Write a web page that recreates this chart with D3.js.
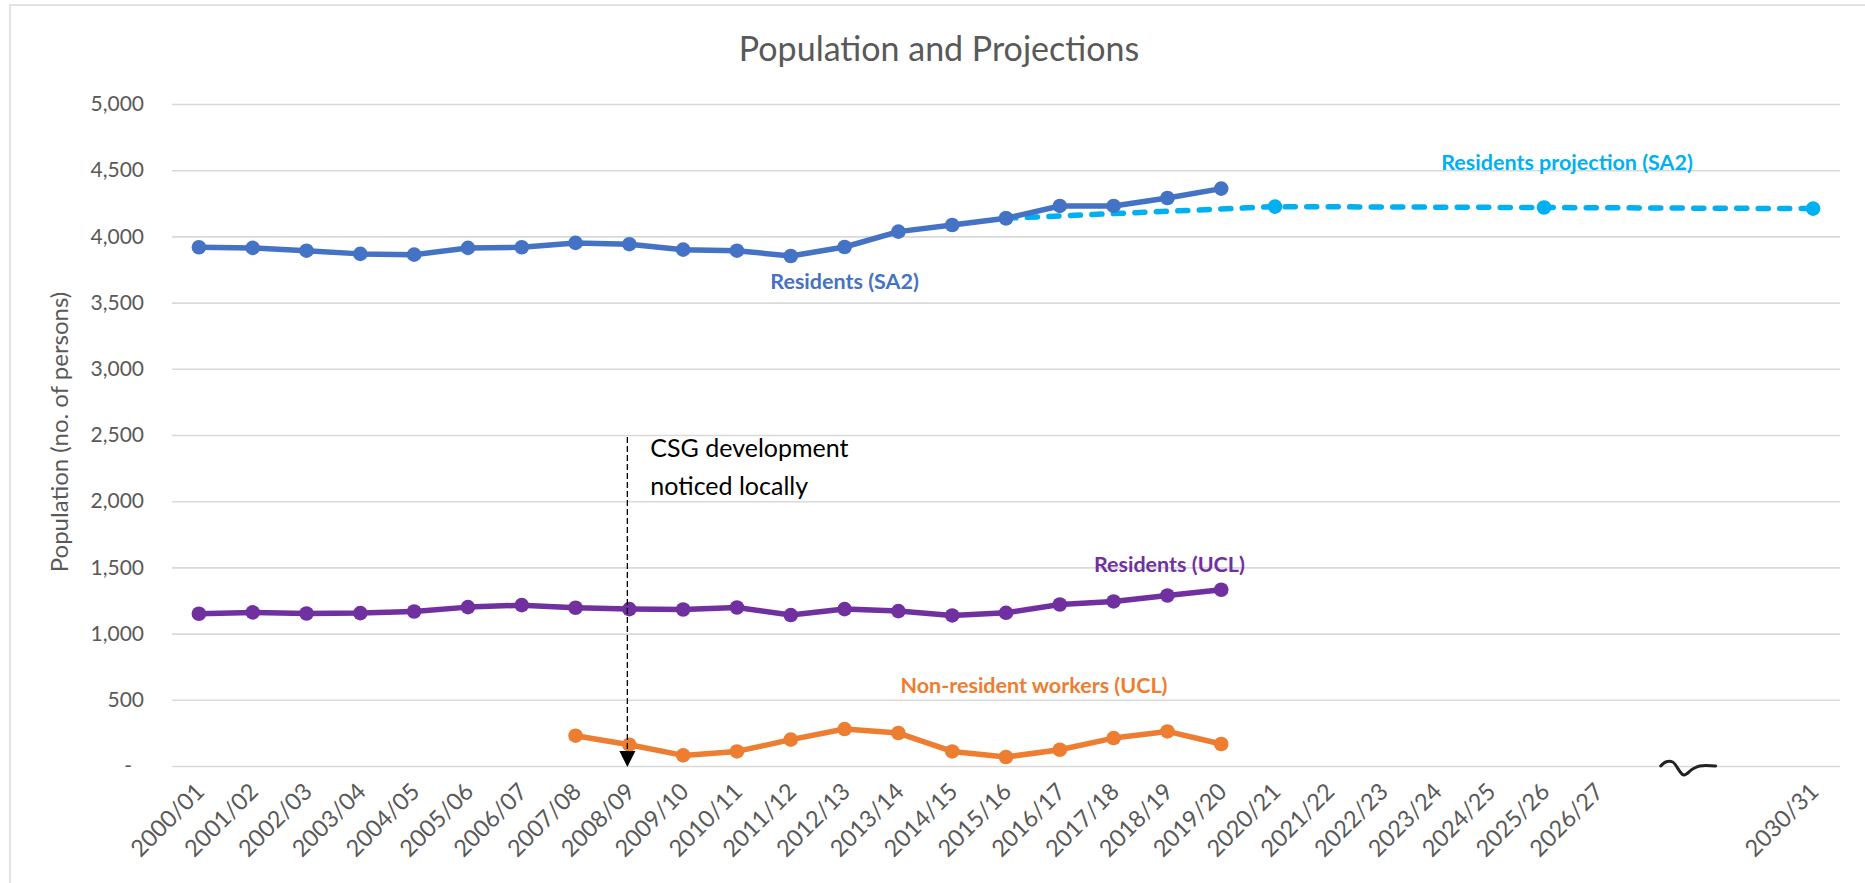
<!DOCTYPE html>
<html>
<head>
<meta charset="utf-8">
<script src="https://cdn.jsdelivr.net/npm/d3@7"></script>
<style>
  body { margin: 0; background: #fff; }
  text { font-family: Lato, "Open Sans", sans-serif; }
</style>
</head>
<body>
<svg id="chart"></svg>
<script>
// categories (the three blanks are the hidden years behind the axis break)
const years = ['2000/01', '2001/02', '2002/03', '2003/04', '2004/05', '2005/06', '2006/07',
  '2007/08', '2008/09', '2009/10', '2010/11', '2011/12', '2012/13', '2013/14', '2014/15',
  '2015/16', '2016/17', '2017/18', '2018/19', '2019/20', '2020/21', '2021/22', '2022/23',
  '2023/24', '2024/25', '2025/26', '2026/27', '', '', '', '2030/31']

const residentsSA2 = [3918, 3913, 3892, 3868, 3862, 3913, 3918, 3951, 3941, 3900,
  3892, 3852, 3920, 4036, 4086, 4137, 4230, 4230, 4290, 4361]

const projectionSA2 = [null, null, null, null, null, null, null, null, null, null,
  null, null, null, null, null, 4137, null, null, null, null,
  4225, null, null, null, null, 4218, null, null, null, null, 4210]

const residentsUCL = [1150, 1160, 1152, 1155, 1167, 1200, 1215, 1195, 1185, 1182,
  1197, 1140, 1185, 1170, 1137, 1157, 1220, 1243, 1288, 1331]

const nonResidentWorkers = [null, null, null, null, null, null, null, 229, 161, 80,
  110, 199, 279, 249, 110, 68, 123, 211, 261, 166]

const yTicks = [0, 500, 1000, 1500, 2000, 2500, 3000, 3500, 4000, 4500, 5000]

const width = 1865
const height = 883
const margin = {top: 104, right: 25, bottom: 117, left: 172}
const grey = '#595959'
const gridColor = '#d9d9d9'

const svg = d3.select('#chart').attr('width', width).attr('height', height)

// chart area border (runs off the right/bottom of the picture)
svg.append('rect')
  .attr('x', 10).attr('y', 5)
  .attr('width', width + 20).attr('height', height + 20)
  .attr('fill', '#fff')
  .attr('stroke', gridColor).attr('stroke-width', 1.5)

const x = d3.scaleBand()
  .domain(d3.range(years.length))
  .range([margin.left, width - margin.right])
const cx = i => x(i) + x.bandwidth() / 2

const y = d3.scaleLinear()
  .domain([0, 5000])
  .range([height - margin.bottom, margin.top])

// title
svg.append('text')
  .attr('x', 939).attr('y', 61)
  .attr('text-anchor', 'middle')
  .attr('fill', grey)
  .style('font-size', '34px')
  .text('Population and Projections')

// gridlines
svg.append('g')
  .attr('transform', `translate(${margin.left},0)`)
  .call(d3.axisLeft(y).tickValues(yTicks).tickSize(-(width - margin.left - margin.right)).tickFormat(''))
  .call(g => g.select('.domain').remove())
  .call(g => g.selectAll('line').attr('stroke', gridColor).attr('stroke-width', 1.6))

// y axis labels
svg.append('g')
  .attr('transform', `translate(${margin.left},0)`)
  .call(d3.axisLeft(y).tickValues(yTicks).tickSize(0).tickPadding(28)
    .tickFormat(d => d === 0 ? '-' : d3.format(',')(d)))
  .call(g => g.select('.domain').remove())
  .call(g => g.selectAll('text')
    .attr('fill', grey)
    .style('font-size', '21px')
    .attr('dx', d => d === 0 ? -12 : 0))

svg.append('text')
  .attr('transform', `translate(60,${(y(0) + y(5000)) / 2 - 3}) rotate(-90)`)
  .attr('text-anchor', 'middle')
  .attr('dy', '0.35em')
  .attr('fill', grey)
  .style('font-size', '24px')
  .text('Population (no. of persons)')

// x axis labels
svg.append('g')
  .attr('transform', `translate(0,${y(0)})`)
  .call(d3.axisBottom(x).tickSize(0).tickFormat(i => years[i]))
  .call(g => g.select('.domain').remove())
  .call(g => g.selectAll('text')
    .attr('y', 0).attr('dy', 0)
    .attr('text-anchor', 'end')
    .attr('transform', 'translate(7,27) rotate(-45)')
    .attr('fill', grey)
    .style('font-size', '23.5px'))

// axis break squiggle between 2026/27 and 2030/31
const breakShape = [[-27, 0], [-22, -4], [-15, -4], [-4, 9], [5, 3], [12, 0], [28, 0]]
const bx = cx(27) + 36
svg.append('path')
  .attr('d', d3.line().curve(d3.curveCatmullRom)(breakShape.map(p => [bx + p[0], y(0) + p[1]])))
  .attr('fill', 'none')
  .attr('stroke', '#222')
  .attr('stroke-width', 3)
  .attr('stroke-linecap', 'round')

function drawSeries(values, color, dashed) {
  const pts = values.map((v, i) => ({i, v})).filter(d => d.v != null)
  const g = svg.append('g')
  g.append('path')
    .datum(pts)
    .attr('d', d3.line().x(d => cx(d.i)).y(d => y(d.v)))
    .attr('fill', 'none')
    .attr('stroke', color)
    .attr('stroke-width', 5.5)
    .attr('stroke-linecap', 'round')
    .attr('stroke-linejoin', 'round')
    .attr('stroke-dasharray', dashed ? '10,11.5' : null)
  g.selectAll('circle')
    .data(pts)
    .join('circle')
    .attr('cx', d => cx(d.i))
    .attr('cy', d => y(d.v))
    .attr('r', 7.3)
    .attr('fill', color)
}

drawSeries(projectionSA2, '#00b0f0', true)
drawSeries(residentsSA2, '#4472c4', false)
drawSeries(residentsUCL, '#7030a0', false)
drawSeries(nonResidentWorkers, '#ed7d31', false)

// CSG annotation arrow
const ax = cx(8) - 2
svg.append('line')
  .attr('x1', ax).attr('x2', ax)
  .attr('y1', y(2500) + 2).attr('y2', y(0) - 12)
  .attr('stroke', '#000')
  .attr('stroke-width', 1.3)
  .attr('stroke-dasharray', '6,3')
svg.append('path')
  .attr('d', `M${ax - 8},${y(0) - 15}L${ax + 8},${y(0) - 15}L${ax},${y(0) + 1}Z`)
  .attr('fill', '#000')

const note = svg.append('text')
  .attr('fill', '#000')
  .style('font-size', '25px')
note.append('tspan').attr('x', ax + 23).attr('y', y(2500) + 22).text('CSG development')
note.append('tspan').attr('x', ax + 23).attr('y', y(2500) + 60).text('noticed locally')

// series labels
const seriesLabels = [
  {text: 'Residents (SA2)', i: 12, dx: 0, v: 3600, color: '#4472c4'},
  {text: 'Residents projection (SA2)', i: 25, dx: 23, v: 4500, color: '#00b0f0'},
  {text: 'Residents (UCL)', i: 18, dx: 2, v: 1465, color: '#7030a0'},
  {text: 'Non-resident workers (UCL)', i: 15, dx: 28, v: 555, color: '#ed7d31'}
]
svg.append('g')
  .selectAll('text')
  .data(seriesLabels)
  .join('text')
  .attr('x', d => cx(d.i) + d.dx)
  .attr('y', d => y(d.v))
  .attr('text-anchor', 'middle')
  .attr('fill', d => d.color)
  .style('font-size', '21.5px')
  .style('font-weight', 700)
  .text(d => d.text)
</script>
</body>
</html>
